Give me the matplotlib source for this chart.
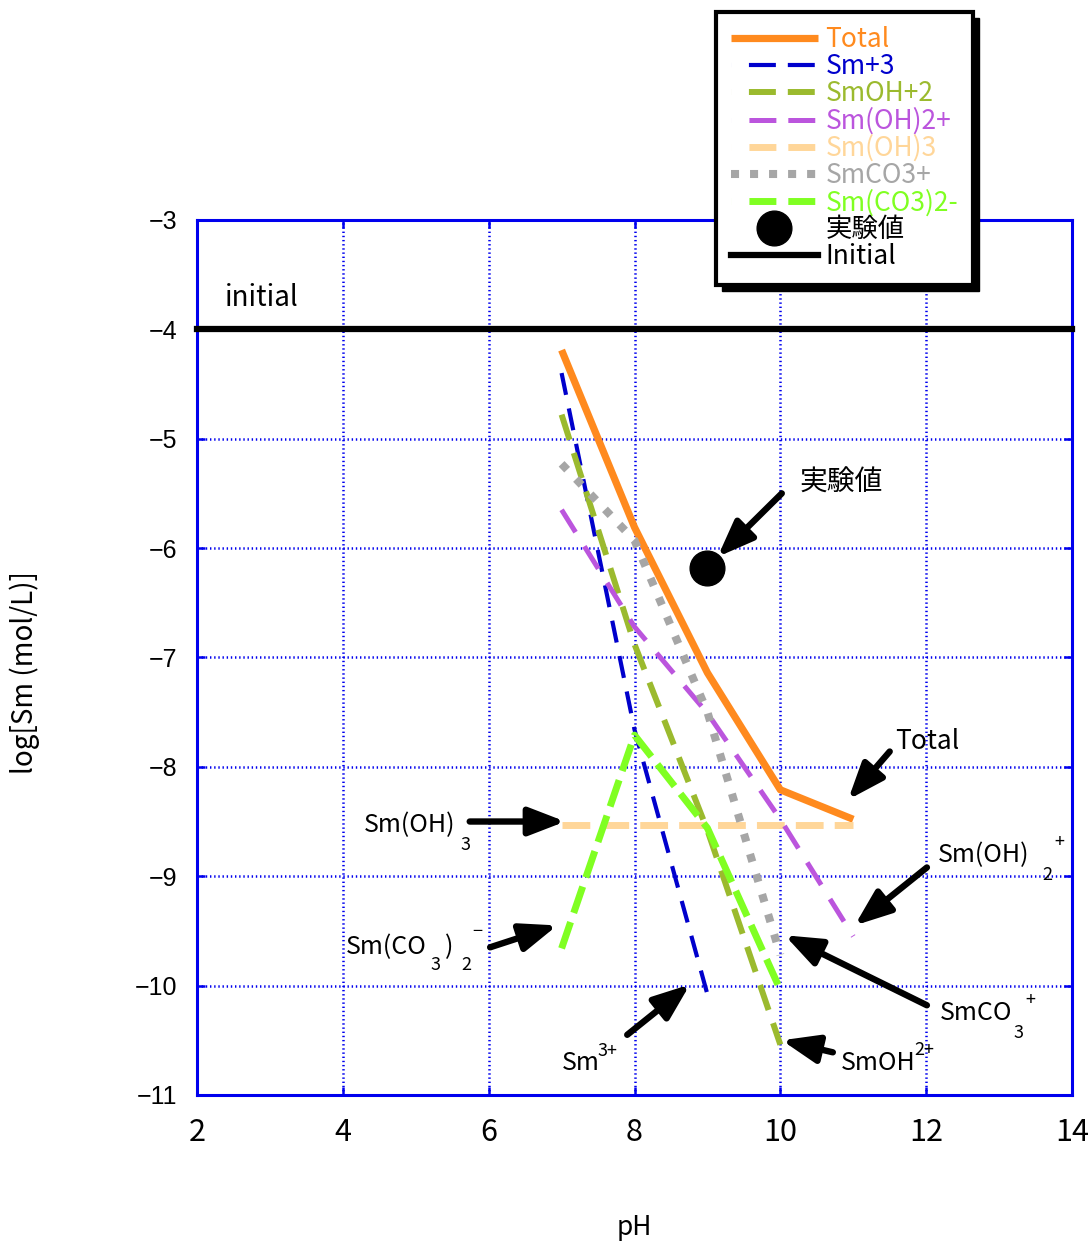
import matplotlib
matplotlib.use("Agg")
import matplotlib.pyplot as plt
from matplotlib.patches import Rectangle

plt.rcParams['lines.scale_dashes'] = False

FONT = ['Noto Sans CJK JP', 'DejaVu Sans']
plt.rcParams['font.family'] = FONT

# ---- data -------------------------------------------------------------
ph = [7, 8, 9, 10, 11]
total = [-4.19, -5.81, -7.14, -8.21, -8.48]

ph_sm3 = [7, 8, 9]
sm3 = [-4.40, -7.66, -10.08]

ph_smoh = [7, 8, 9, 10]
smoh = [-4.78, -6.88, -8.58, -10.54]

ph_smoh2 = [7, 8, 9, 10, 11]
smoh2 = [-5.65, -6.72, -7.51, -8.48, -9.55]

ph_smoh3 = [7, 8, 9, 10, 11]
smoh3 = [-8.53, -8.53, -8.53, -8.53, -8.53]

ph_smco3 = [7, 8, 9, 10]
smco3 = [-5.23, -5.93, -7.50, -9.72]

ph_smco32 = [7, 8, 9, 10]
smco32 = [-9.66, -7.71, -8.56, -10.04]

exp_ph = [9.0]
exp_val = [-6.18]

initial_ph = [2, 14]
initial_val = [-4.0, -4.0]

xticks = [2, 4, 6, 8, 10, 12, 14]
yticks = [-3, -4, -5, -6, -7, -8, -9, -10, -11]

# ---- colours ----------------------------------------------------------
C_TOTAL = '#FF8A1E'
C_SM3 = '#0000CC'
C_SMOH = '#9BBA2E'
C_SMOH2 = '#BB55DD'
C_SMOH3 = '#FFD699'
C_SMCO3 = '#A6A6A6'
C_SMCO32 = '#80FF22'
C_GRID = '#0000EE'

fig = plt.figure(figsize=(10.89, 12.44), dpi=100)
ax = fig.add_axes([0.1809, 0.1198, 0.8035, 0.7034])

ax.plot(ph, total, color=C_TOTAL, lw=5.2, solid_capstyle='butt',
        label='Total', zorder=3)
ax.plot(ph_sm3, sm3, color=C_SM3, lw=3.0, dashes=(16, 10),
        label='Sm+3', zorder=4)
ax.plot(ph_smoh, smoh, color=C_SMOH, lw=4.3, dashes=(19, 10),
        label='SmOH+2', zorder=5)
ax.plot(ph_smoh2, smoh2, color=C_SMOH2, lw=3.6, dashes=(19, 12),
        label='Sm(OH)2+', zorder=6)
ax.plot(ph_smoh3, smoh3, color=C_SMOH3, lw=5.0, dashes=(20, 8),
        dash_capstyle='butt', label='Sm(OH)3', zorder=3.5)
ax.plot(ph_smco3, smco3, color=C_SMCO3, lw=5.8, dashes=(5.8, 9.3),
        dash_capstyle='butt', label='SmCO3+', zorder=7)
ax.plot(ph_smco32, smco32, color=C_SMCO32, lw=5.0, dashes=(20, 7),
        label='Sm(CO3)2-', zorder=8)
ax.plot(exp_ph, exp_val, 'o', color='black', ms=25, ls='none',
        label='実験値', zorder=9)
ax.plot(initial_ph, initial_val, color='black', lw=4.5,
        solid_capstyle='projecting', clip_on=False, label='Initial', zorder=9)

ax.set_xlim(2, 14)
ax.set_ylim(-11, -3)
ax.set_xticks(xticks)
ax.set_yticks(yticks)
ax.grid(True, color=C_GRID, ls=(0, (1, 2)), lw=1.8)
for s in ax.spines.values():
    s.set_color(C_GRID)
    s.set_linewidth(2.2)
ax.tick_params(direction='in', length=6, width=1.8, color=C_GRID,
               top=True, right=True)
ax.tick_params(axis='y', labelsize=18, pad=14)
ax.tick_params(axis='x', labelsize=22, pad=16)
for t in ax.get_yticklabels():
    t.set_family(['Liberation Sans', 'DejaVu Sans'])

ax.set_xlabel('pH', fontsize=19, va='center')
ax.xaxis.set_label_coords(0.4994, -0.152)
ax.set_ylabel('log[Sm (mol/L)]', fontsize=20)
ax.yaxis.set_label_coords(-0.179, 0.483)

# ---- legend -----------------------------------------------------------
leg = ax.legend(loc='upper left', bbox_to_anchor=(0.6575, 0.9904),
                bbox_transform=fig.transFigure, borderaxespad=0,
                fontsize=19, labelspacing=0.0, handlelength=3.3,
                handletextpad=0.3, borderpad=0.55, fancybox=False,
                framealpha=1, edgecolor='black')
leg.get_frame().set_linewidth(3)
leg.set_zorder(20)
# two-dash swatches for the dashed series, small squares for SmCO3+
two_dash = (0, (0.01, 12.9, 19.4, 8.6, 19.4, 80))
for txt, line in zip(leg.get_texts(), leg.get_lines()):
    txt.set_color(line.get_color())
    if txt.get_text() in ('Sm+3', 'SmOH+2', 'Sm(OH)2+', 'Sm(OH)3',
                          'Sm(CO3)2-'):
        line.set_linestyle(two_dash)
        line.set_dash_capstyle('butt')
    elif txt.get_text() == 'SmCO3+':
        line.set_linestyle((0, (5.8, 7.9)))

# solid black drop shadow behind the legend box
fig.canvas.draw()
bb = leg.get_window_extent().transformed(fig.transFigure.inverted())
ax.add_patch(Rectangle((bb.x0 + 6 / 1089, bb.y0 - 6 / 1244), bb.width,
                       bb.height, transform=fig.transFigure,
                       facecolor='black', edgecolor='black',
                       clip_on=False, zorder=19))

# ---- annotations ------------------------------------------------------
arrow = dict(arrowstyle='-|>,head_length=2.2,head_width=0.85', lw=4.6,
             color='black', shrinkA=0, shrinkB=0, mutation_scale=10)


def note(tail, head):
    ax.annotate('', xy=head, xytext=tail, arrowprops=arrow, zorder=10)


MAIN = 18
SUB = 13


def label(x, y, parts):
    """Main text right-aligned at (x, y); each following part is
    (text, dx, dy, size) placed after the previous piece, in pixels."""
    t = ax.text(x, y, parts[0], fontsize=MAIN, ha='right', va='center',
                zorder=10)
    prev = t
    for s, dx, dy, size in parts[1:]:
        prev = ax.annotate(s, xy=(1, 0.5), xycoords=prev,
                           xytext=(dx, dy), textcoords='offset pixels',
                           fontsize=size, ha='left', va='center', zorder=10)
    return t


ax.text(2.38, -3.71, 'initial', fontsize=20, va='center', zorder=10)

ax.text(10.27, -5.40, '実験値', fontsize=20, va='center', zorder=10)
note((10.02, -5.50), (9.14, -6.08))

ax.text(11.57, -7.77, 'Total', fontsize=19, va='center', zorder=10)
note((11.50, -7.86), (10.93, -8.30))

label(5.54, -8.53, ['Sm(OH)', ('3', 5, -20, SUB)])
note((5.74, -8.50), (7.05, -8.50))

label(13.42, -8.81, ['Sm(OH)', ('2', 13, -20, SUB), ('+', 2, 33, SUB)])
note((12.01, -8.92), (11.02, -9.45))

label(5.15, -9.65, ['Sm(CO', ('3', 4, -18, SUB), (')', 4, 18, MAIN),
                    ('2', 8, -18, SUB), ('−', 1, 33, SUB)])
note((6.02, -9.65), (6.94, -9.45))

label(13.18, -10.25, ['SmCO', ('3', 1, -20, SUB), ('+', 2, 33, SUB)])
note((12.01, -10.18), (10.06, -9.54))

label(7.52, -10.71, ['Sm', ('3+', -2, 12, SUB)])
note((7.90, -10.45), (8.76, -9.99))

label(11.86, -10.71, ['SmOH', ('2+', -2, 13, SUB)])
note((10.72, -10.61), (10.02, -10.50))

fig.savefig('out.png', dpi=100)
